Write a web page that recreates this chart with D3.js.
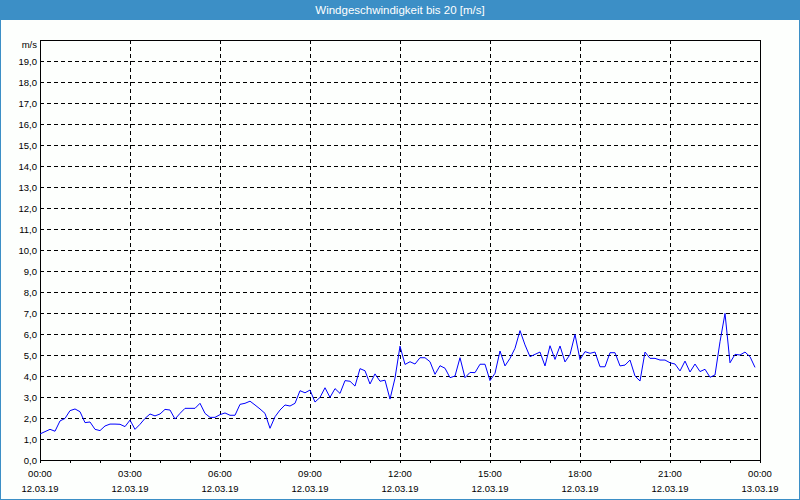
<!DOCTYPE html>
<html>
<head>
<meta charset="utf-8">
<script src="https://cdn.jsdelivr.net/npm/d3@7"></script>
<style>
  html, body { margin: 0; padding: 0; background: #fdfffd; }
  svg { display: block; font-family: "Liberation Sans", Arial, sans-serif; }
</style>
</head>
<body>
<svg id="chart" width="800" height="500"></svg>
<script>
// ---- data ----
const title = "Windgeschwindigkeit bis 20 [m/s]";
const unitLabel = "m/s";
const startTime = new Date(2019, 2, 12, 0, 0);
const endTime = new Date(2019, 2, 13, 0, 0);
const intervalMinutes = 10;
const yTickValues = [0,1,2,3,4,5,6,7,8,9,10,11,12,13,14,15,16,17,18,19];
const windSpeed = [
  1.24,1.35,1.46,1.37,1.86,1.98,2.35,2.43,2.30,1.78,1.81,1.46,
  1.40,1.62,1.71,1.71,1.70,1.59,1.90,1.46,1.70,1.98,2.19,2.10,
  2.19,2.41,2.38,1.95,2.22,2.46,2.46,2.46,2.70,2.22,2.03,2.03,
  2.16,2.24,2.13,2.13,2.65,2.70,2.80,2.62,2.43,2.22,1.51,2.06,
  2.38,2.62,2.57,2.70,3.30,3.20,3.33,2.76,2.98,3.44,2.98,3.40,
  3.17,3.78,3.75,3.52,4.35,4.25,3.62,4.10,3.75,3.80,2.90,3.90,
  5.42,4.55,4.68,4.57,4.87,4.87,4.68,4.08,4.49,4.37,3.92,4.00,
  4.87,3.92,4.17,4.16,4.56,4.56,3.78,4.13,5.19,4.48,4.84,5.32,
  6.16,5.48,4.92,5.03,5.14,4.48,5.44,4.79,5.43,4.67,5.02,5.98,
  4.78,5.16,5.08,5.14,4.44,4.44,5.11,5.11,4.48,4.52,4.76,4.00,
  3.76,5.14,4.84,4.84,4.76,4.76,4.63,4.57,4.24,4.71,4.19,4.57,
  4.21,4.32,3.94,4.05,5.63,6.98,4.63,5.03,5.00,5.14,4.92,4.41
];
const series = windSpeed.map((v, i) => ({
  t: new Date(startTime.getTime() + i * intervalMinutes * 60000),
  v: v
}));

// ---- layout ----
const W = 800, H = 500;
const plot = { left: 40, right: 760, top: 40, bottom: 460 };
const frameColor = "#3c8fc6";

const svg = d3.select("#chart");

// background & title bar
svg.append("rect").attr("x", 0).attr("y", 0).attr("width", W).attr("height", H).attr("fill", "#fdfffd");
svg.append("rect").attr("x", 0).attr("y", 0).attr("width", W).attr("height", 20).attr("fill", frameColor);
svg.append("text").attr("x", W / 2).attr("y", 14).attr("text-anchor", "middle")
  .attr("fill", "#ffffff").attr("font-size", "11.5px").text(title);
// window border
svg.append("path")
  .attr("d", `M0.5,20 V499.5 H799.5 V20`)
  .attr("fill", "none").attr("stroke", frameColor).attr("stroke-width", 1)
  .attr("shape-rendering", "crispEdges");

// scales
const x = d3.scaleTime().domain([startTime, endTime]).range([plot.left, plot.right]);
const y = d3.scaleLinear().domain([0, 20]).range([plot.bottom, plot.top]);

// grid
const grid = svg.append("g").attr("shape-rendering", "crispEdges")
  .attr("stroke", "#000").attr("stroke-dasharray", "4,3").attr("stroke-width", 1);
grid.selectAll("line.h").data(yTickValues.filter(d => d > 0)).join("line")
  .attr("class", "h")
  .attr("x1", plot.left).attr("x2", plot.right)
  .attr("y1", d => Math.round(y(d)) + 0.5).attr("y2", d => Math.round(y(d)) + 0.5);
const majorTicks = d3.timeHour.every(3).range(startTime, d3.timeHour.offset(endTime, 1));
grid.selectAll("line.v").data(majorTicks.filter(d => d > startTime && d < endTime)).join("line")
  .attr("class", "v")
  .attr("y1", plot.top).attr("y2", plot.bottom)
  .attr("x1", d => Math.round(x(d)) + 0.5).attr("x2", d => Math.round(x(d)) + 0.5);

// plot frame
svg.append("rect")
  .attr("x", plot.left + 0.5).attr("y", plot.top + 0.5)
  .attr("width", plot.right - plot.left).attr("height", plot.bottom - plot.top)
  .attr("fill", "none").attr("stroke", "#000").attr("shape-rendering", "crispEdges");

// y axis labels
const yAxis = d3.axisLeft(y).tickValues(yTickValues).tickSize(0).tickPadding(3)
  .tickFormat(d => d.toFixed(1).replace(".", ","));
const gy = svg.append("g").attr("transform", `translate(${plot.left},0)`).call(yAxis);
gy.select(".domain").remove();
gy.selectAll("text").attr("font-size", "9.5px").attr("font-family", "Liberation Sans, Arial, sans-serif").attr("fill", "#000");
svg.append("text").attr("x", plot.left - 3).attr("y", y(20) + 8).attr("text-anchor", "end")
  .attr("font-size", "9.5px").attr("fill", "#000").text(unitLabel);

// x axis: minor hourly ticks and two-line labels
const hourTicks = d3.timeHour.every(1).range(startTime, d3.timeHour.offset(endTime, 1));
const xAxis = d3.axisBottom(x).tickValues(hourTicks).tickSize(3).tickSizeOuter(0).tickPadding(7)
  .tickFormat(() => "");
const gx = svg.append("g").attr("transform", `translate(0,${plot.bottom})`).call(xAxis);
gx.select(".domain").remove();
gx.selectAll("line").attr("shape-rendering", "crispEdges");
const fmtTime = d3.timeFormat("%H:%M");
const fmtDate = d3.timeFormat("%d.%m.%y");
const labels = svg.append("g").attr("font-size", "9.5px").attr("fill", "#000").attr("text-anchor", "middle");
labels.selectAll("text.t").data(majorTicks).join("text").attr("class", "t")
  .attr("x", d => x(d)).attr("y", 477).text(d => fmtTime(d));
labels.selectAll("text.d").data(majorTicks).join("text").attr("class", "d")
  .attr("x", d => x(d)).attr("y", 492).text(d => fmtDate(d));

// data line
const line = d3.line().x(d => x(d.t)).y(d => y(d.v));
svg.append("path").datum(series)
  .attr("d", line)
  .attr("fill", "none").attr("stroke", "#0000ff").attr("stroke-width", 1);
</script>
</body>
</html>
